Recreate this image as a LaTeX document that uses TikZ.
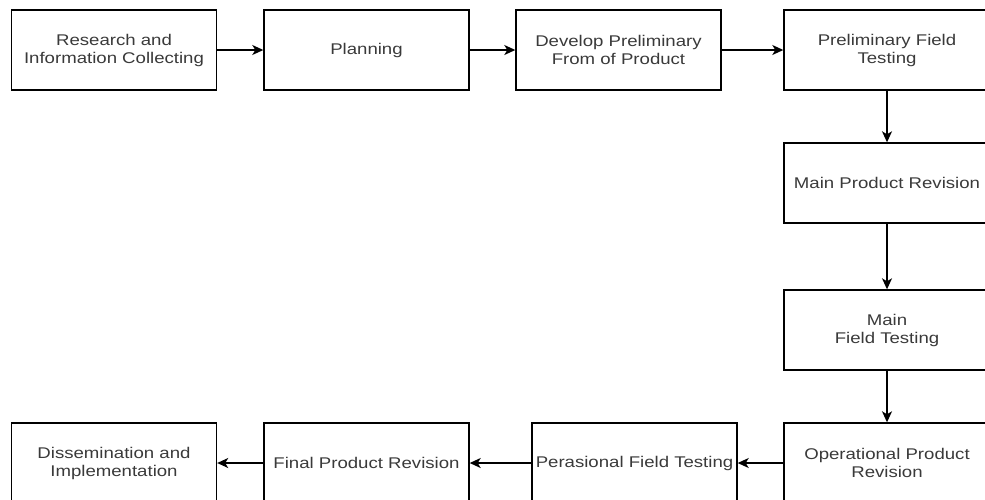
\documentclass[tikz,border=0pt]{standalone}
\usepackage{fontspec}
\setmainfont[FakeStretch=1.2]{Liberation Sans}
\usetikzlibrary{arrows.meta}
\definecolor{txt}{HTML}{3A3A3A}
\begin{document}
\begin{tikzpicture}[x=1pt,y=-1pt,
  stepbox/.style={draw=black, line width=1.4pt, minimum width=205pt, minimum height=80pt,
    inner sep=0pt, align=center, text=txt, font=\fontsize{15.5}{18}\selectfont},
  conn/.style={line width=1.4pt, -{Stealth[length=11pt,width=10pt,inset=3pt]}}]
\clip (0,0) rectangle (985,499);
\fill[white] (0,0) rectangle (985,499);
\node[stepbox] (b1) at (114,50) {Research and\\Information Collecting};
\node[stepbox] (b2) at (366.5,50) {Planning};
\node[stepbox] (b3) at (618.5,50) {Develop Preliminary\\From of Product};
\node[stepbox, minimum width=206pt] (b4) at (887,50) {Preliminary Field\\Testing};
\node[stepbox, minimum width=206pt] (b5) at (887,183) {Main Product Revision};
\node[stepbox, minimum width=206pt] (b6) at (887,330) {Main\\Field Testing};
\node[stepbox, minimum width=206pt] (b7) at (887,463) {Operational Product\\Revision};
\node[stepbox] (b8) at (634.5,463) {Perasional Field Testing};
\node[stepbox] (b9) at (366.5,463) {Final Product Revision};
\node[stepbox] (b10) at (114,463) {Dissemination and\\Implementation};
\draw[conn] (b1) -- (b2);
\draw[conn] (b2) -- (b3);
\draw[conn] (b3) -- (b4);
\draw[conn] (b4) -- (b5);
\draw[conn] (b5) -- (b6);
\draw[conn] (b6) -- (b7);
\draw[conn] (b7) -- (b8);
\draw[conn] (b8) -- (b9);
\draw[conn] (b9) -- (b10);
\end{tikzpicture}
\end{document}
